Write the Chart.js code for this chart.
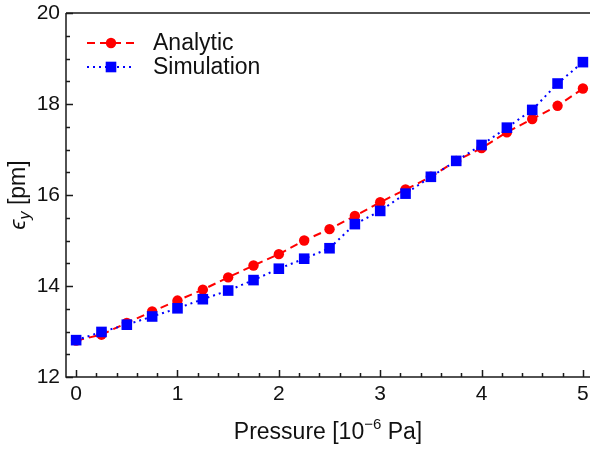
<!DOCTYPE html>
<html>
<head>
<meta charset="utf-8">
<script src="https://cdn.jsdelivr.net/npm/chart.js@4.4.1/dist/chart.umd.min.js"></script>
<style>
  html, body { margin: 0; padding: 0; background: #fff; }
  #wrap { width: 590px; height: 449px; }
</style>
</head>
<body>
<div id="wrap"><canvas id="chart" width="590" height="449"></canvas></div>
<script>
const pressure = [0, 0.25, 0.5, 0.75, 1, 1.25, 1.5, 1.75, 2, 2.25, 2.5, 2.75, 3, 3.25, 3.5, 3.75, 4, 4.25, 4.5, 4.75, 5];
const analytic = [12.80, 12.93, 13.19, 13.44, 13.68, 13.92, 14.19, 14.45, 14.70, 15.00, 15.25, 15.54, 15.84, 16.12, 16.40, 16.75, 17.03, 17.38, 17.67, 17.96, 18.34];
const simulation = [12.81, 12.99, 13.15, 13.33, 13.51, 13.71, 13.90, 14.13, 14.38, 14.60, 14.83, 15.36, 15.65, 16.03, 16.40, 16.75, 17.10, 17.48, 17.87, 18.45, 18.92];
const xTicks = [0, 1, 2, 3, 4, 5];
const yTicks = [12, 14, 16, 18, 20];

const FONT = "'Liberation Sans', Arial, Helvetica, sans-serif";
const AXIS = "#1a1a1a";

const toPoints = (ys) => ys.map((y, i) => ({ x: pressure[i], y }));

// inward ticks, frame, legend and axis titles
const decorations = {
  id: "decorations",
  afterDatasetsDraw(chart) {
    const { ctx, chartArea: a, scales: { x, y } } = chart;
    ctx.save();
    ctx.strokeStyle = AXIS;
    ctx.lineWidth = 1.5;
    ctx.setLineDash([]);

    ctx.beginPath();
    ctx.moveTo(a.left, a.top);
    ctx.lineTo(a.left, a.bottom);
    ctx.lineTo(a.right, a.bottom);
    ctx.moveTo(a.left, a.top);
    ctx.lineTo(a.right, a.top);
    ctx.stroke();

    ctx.beginPath();
    for (let v = 0; v <= 5.001; v += 0.2) {
      const px = Math.round(x.getPixelForValue(v)) + 0.5;
      const major = Math.abs(v - Math.round(v)) < 1e-6;
      ctx.moveTo(px, a.bottom);
      ctx.lineTo(px, a.bottom - (major ? 7 : 4));
    }
    for (let v = 12; v <= 20.001; v += 0.5) {
      const py = Math.round(y.getPixelForValue(v)) + 0.5;
      const major = Math.abs(v / 2 - Math.round(v / 2)) < 1e-6;
      ctx.moveTo(a.left, py);
      ctx.lineTo(a.left + (major ? 7 : 4), py);
    }
    ctx.stroke();

    // legend
    const rows = [chart.data.datasets[0], chart.data.datasets[1]];
    rows.forEach((ds, i) => {
      const cy = 43 + i * 24;
      ctx.strokeStyle = ds.borderColor;
      ctx.lineWidth = ds.borderWidth;
      ctx.setLineDash(ds.borderDash);
      ctx.beginPath();
      ctx.moveTo(87, cy);
      ctx.lineTo(135, cy);
      ctx.stroke();
      ctx.setLineDash([]);
      ctx.fillStyle = ds.pointBackgroundColor;
      if (ds.pointStyle === "rect") {
        const s = ds.pointRadius * Math.SQRT1_2;
        ctx.fillRect(111 - s, cy - s, 2 * s, 2 * s);
      } else {
        ctx.beginPath();
        ctx.arc(111, cy, ds.pointRadius, 0, Math.PI * 2);
        ctx.fill();
      }
      ctx.fillStyle = "#111";
      ctx.font = `23px ${FONT}`;
      ctx.textBaseline = "middle";
      ctx.textAlign = "left";
      ctx.fillText(ds.label, 153, cy + 1);
    });

    // x title
    ctx.fillStyle = "#111";
    ctx.textBaseline = "alphabetic";
    ctx.textAlign = "left";
    const big = `23px ${FONT}`, small = `15px ${FONT}`;
    const p1 = "Pressure [10", p2 = "\u22126", p3 = " Pa]";
    ctx.font = big; const w1 = ctx.measureText(p1).width, w3 = ctx.measureText(p3).width;
    ctx.font = small; const w2 = ctx.measureText(p2).width;
    let tx = (a.left + a.right) / 2 - (w1 + w2 + w3) / 2;
    const base = 439;
    ctx.font = big; ctx.fillText(p1, tx, base); tx += w1;
    ctx.font = small; ctx.fillText(p2, tx, base - 10); tx += w2;
    ctx.font = big; ctx.fillText(p3, tx, base);

    // y title
    ctx.translate(25, (a.top + a.bottom) / 2);
    ctx.rotate(-Math.PI / 2);
    const e = "\u03f5", sub = "y", rest = " [pm]";
    const fe = `italic 23px ${FONT}`, fs = `italic 16px ${FONT}`;
    ctx.font = fe; const we = ctx.measureText(e).width;
    ctx.font = fs; const ws = ctx.measureText(sub).width;
    ctx.font = big; const wr = ctx.measureText(rest).width;
    let ty = -(we + ws + wr) / 2;
    ctx.font = fe; ctx.fillText(e, ty, 0); ty += we;
    ctx.font = fs; ctx.fillText(sub, ty, 5); ty += ws;
    ctx.font = big; ctx.fillText(rest, ty, 0);
    ctx.restore();
  }
};

new Chart(document.getElementById("chart"), {
  type: "line",
  data: {
    datasets: [
      {
        label: "Analytic",
        data: toPoints(analytic),
        borderColor: "#ff0000",
        backgroundColor: "#ff0000",
        pointBackgroundColor: "#ff0000",
        pointBorderWidth: 0,
        borderWidth: 2,
        borderDash: [8, 5],
        pointStyle: "circle",
        pointRadius: 5.2,
        order: 2,
      },
      {
        label: "Simulation",
        data: toPoints(simulation),
        borderColor: "#0000ff",
        backgroundColor: "#0000ff",
        pointBackgroundColor: "#0000ff",
        pointBorderWidth: 0,
        borderWidth: 2,
        borderDash: [2, 4],
        pointStyle: "rect",
        pointRadius: 7.5,
        order: 1,
      },
    ],
  },
  options: {
    responsive: false,
    animation: false,
    events: [],
    layout: { autoPadding: false, padding: { top: 13, right: 0, left: 0, bottom: 0 } },
    plugins: { legend: { display: false }, tooltip: { enabled: false } },
    elements: { line: { tension: 0 } },
    scales: {
      x: {
        type: "linear",
        min: -0.1,
        max: 5.07,
        afterBuildTicks: (s) => { s.ticks = xTicks.map((v) => ({ value: v })); },
        afterFit: (s) => { s.height = 72; s.paddingLeft = 0; s.paddingRight = 0; },
        grid: { display: false, drawTicks: false },
        border: { display: false },
        ticks: { color: "#111", font: { family: FONT, size: 21 }, padding: 5, maxRotation: 0 },
      },
      y: {
        min: 12,
        max: 20,
        afterBuildTicks: (s) => { s.ticks = yTicks.map((v) => ({ value: v })); },
        afterFit: (s) => { s.width = 66; s.paddingTop = 0; s.paddingBottom = 0; },
        grid: { display: false, drawTicks: false },
        border: { display: false },
        ticks: { color: "#111", font: { family: FONT, size: 21 }, padding: 6 },
      },
    },
  },
  plugins: [decorations],
});
</script>
</body>
</html>
